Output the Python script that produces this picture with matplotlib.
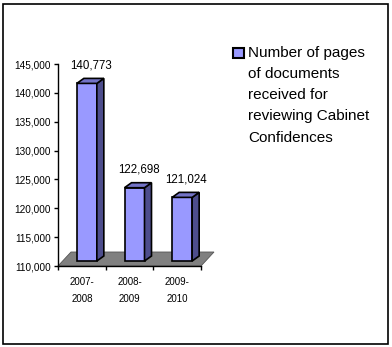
"""
Bar chart: pages of documents received for reviewing Cabinet Confidences.
Excel-style 3D column look rebuilt with plain matplotlib patches.
"""

import matplotlib
matplotlib.use("Agg")
import matplotlib.pyplot as plt
from matplotlib.patches import Polygon, Rectangle
from matplotlib.ticker import FuncFormatter

# Data
years = ["2007-\n2008", "2008-\n2009", "2009-\n2010"]
pages = [140773, 122698, 121024]
value_labels = ["140,773", "122,698", "121,024"]
legend_label = "Number of pages\nof documents\nreceived for\nreviewing Cabinet\nConfidences"

y_min, y_max, y_step = 110000, 145000, 5000

# Style
FRONT = "#9999FF"
SIDE = "#4D4D8C"
TOP = "#7373C6"
FLOOR = "#808080"
FONT = "Liberation Sans"

W, H, DPI = 392, 347, 100
plt.rcParams["font.family"] = [FONT, "DejaVu Sans"]

fig = plt.figure(figsize=(W / DPI, H / DPI), dpi=DPI)
fig.patch.set_facecolor("white")

# outer chart frame
fig.add_artist(Rectangle((3 / W, 1 - 344 / H), 385 / W, 340 / H,
                         transform=fig.transFigure, fill=False,
                         edgecolor="black", linewidth=1.2))

left, right, top, bottom = 58, 201, 64, 266
ax = fig.add_axes([left / W, 1 - bottom / H, (right - left) / W, (bottom - top) / H])
ax.set_xlim(0, len(years))
ax.set_ylim(y_min, y_max)

# pixel -> data scales for the fake depth
sx = len(years) / (right - left)
sy = (y_max - y_min) / (bottom - top)


def px(dx, dy):
    return dx * sx, dy * sy


# floor of the 3D plot
fdx, fdy = px(13, 14)
floor = Polygon([(0, y_min), (len(years), y_min),
                 (len(years) + fdx, y_min + fdy), (fdx, y_min + fdy)],
                closed=True, facecolor=FLOOR, edgecolor="#555555",
                linewidth=0.6, clip_on=False, zorder=1)
ax.add_patch(floor)

bar_w = 20 * sx
ox, oy = px(5, 5)      # front face shift
dx, dy = px(7, 5)      # bar depth

for i, (val, lab) in enumerate(zip(pages, value_labels)):
    c = i + 0.5 + ox
    x0, x1 = c - bar_w / 2, c + bar_w / 2
    y0, y1 = y_min + oy, val + oy
    front = Polygon([(x0, y0), (x1, y0), (x1, y1), (x0, y1)],
                    facecolor=FRONT, edgecolor="black", linewidth=1.2,
                    clip_on=False, zorder=3)
    side = Polygon([(x1, y0), (x1 + dx, y0 + dy), (x1 + dx, y1 + dy), (x1, y1)],
                   facecolor=SIDE, edgecolor="black", linewidth=1.2,
                   clip_on=False, zorder=3)
    topf = Polygon([(x0, y1), (x1, y1), (x1 + dx, y1 + dy), (x0 + dx, y1 + dy)],
                   facecolor=TOP, edgecolor="black", linewidth=1.2,
                   clip_on=False, zorder=3)
    for p in (front, side, topf):
        ax.add_patch(p)
    ax.annotate(lab, (i + 0.5, val), xytext=(9, 20), textcoords="offset pixels",
                ha="center", va="baseline", fontsize=8.3, annotation_clip=False)

# axes styling
for s in ("top", "right"):
    ax.spines[s].set_visible(False)
for s in ("left", "bottom"):
    ax.spines[s].set_linewidth(1.0)
    ax.spines[s].set_color("black")
ax.set_facecolor("none")

ax.set_yticks(range(y_min, y_max + 1, y_step))
ax.yaxis.set_major_formatter(FuncFormatter(lambda v, _: f"{int(v):,}"))
ax.tick_params(axis="y", direction="out", length=3, width=1, pad=2, labelsize=7.2)

ax.set_xticks(range(len(years) + 1))
ax.set_xticklabels([])
ax.tick_params(axis="x", direction="out", length=3, width=1)
for i, yr in enumerate(years):
    ax.text(i + 0.5, -0.055, yr, transform=ax.get_xaxis_transform(),
            ha="center", va="top", fontsize=7, linespacing=1.9)

# legend
fig.add_artist(Rectangle((233 / W, 1 - 58 / H), 11 / W, 10 / H,
                         transform=fig.transFigure, facecolor=FRONT,
                         edgecolor="black", linewidth=1.5))
fig.text(248 / W, 1 - 46 / H, legend_label, ha="left", va="top",
         fontsize=11, linespacing=1.65)

fig.savefig("out.png", dpi=DPI)
